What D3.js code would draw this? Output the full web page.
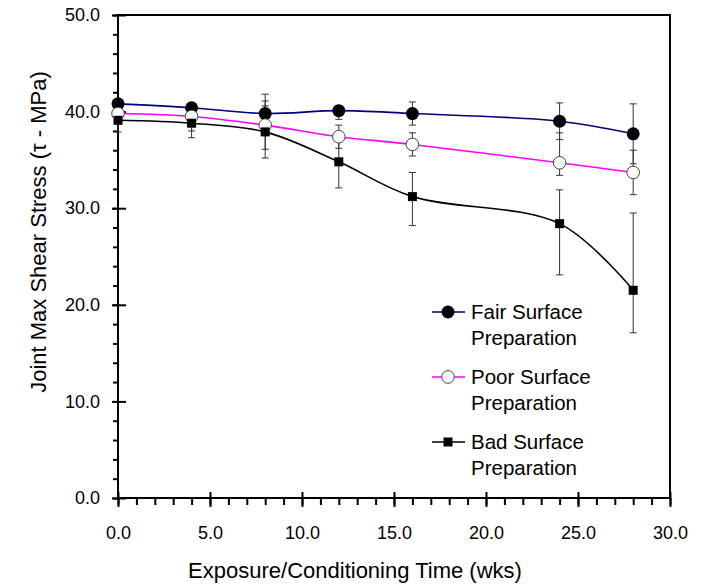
<!DOCTYPE html>
<html>
<head>
<meta charset="utf-8">
<script src="https://cdn.jsdelivr.net/npm/d3@7"></script>
<style>
  body { margin: 0; background: #fff; }
  text { font-family: Arial, "Liberation Sans", sans-serif; fill: #000; }
</style>
</head>
<body>
<div id="chart"></div>
<script>
// weeks of exposure
const weeks = [0, 4, 8, 12, 16, 24, 28];

// joint max shear stress, MPa (means and error-bar ends)
const fairMean = [40.8, 40.4, 39.8, 40.1, 39.8, 39.0, 37.7];
const fairHigh = [41.2, 40.9, 41.8, 40.6, 41.0, 40.9, 40.8];
const fairLow  = [40.4, 39.9, 37.8, 39.2, 38.6, 37.1, 34.6];

const poorMean = [39.8, 39.5, 38.6, 37.4, 36.6, 34.7, 33.7];
const poorHigh = [40.2, 40.0, 41.1, 38.6, 37.8, 37.8, 36.0];
const poorLow  = [39.4, 38.0, 36.1, 36.2, 35.4, 33.4, 31.4];

const badMean = [39.1, 38.8, 37.9, 34.8, 31.2, 28.4, 21.5];
const badHigh = [39.5, 39.6, 40.6, 37.6, 33.7, 31.9, 29.5];
const badLow  = [37.9, 37.3, 35.2, 32.1, 28.2, 23.1, 17.1];

const seriesNames = [["Fair Surface", "Preparation"], ["Poor Surface", "Preparation"], ["Bad Surface", "Preparation"]];

const xTicks = [0, 5, 10, 15, 20, 25, 30];
const yTicks = [0, 10, 20, 30, 40, 50];

const series = [
  {name: seriesNames[0], mean: fairMean, hi: fairHigh, lo: fairLow, color: "#000080", marker: "fillCircle"},
  {name: seriesNames[1], mean: poorMean, hi: poorHigh, lo: poorLow, color: "#ff00ff", marker: "openCircle"},
  {name: seriesNames[2], mean: badMean, hi: badHigh, lo: badLow, color: "#000000", marker: "square"}
];

const chartWidth = 704, chartHeight = 588;
const margin = {top: 15, right: 34, bottom: 90, left: 118};
const width = chartWidth - margin.left - margin.right,
      height = chartHeight - margin.top - margin.bottom;

const svg = d3.select("#chart").append("svg")
    .attr("width", chartWidth)
    .attr("height", chartHeight);
const g = svg.append("g")
    .attr("transform", "translate(" + margin.left + "," + margin.top + ")");

const x = d3.scaleLinear().domain([0, 30]).range([0, width]);
const y = d3.scaleLinear().domain([0, 50]).range([height, 0]);

// minor ticks
g.append("g")
    .attr("transform", "translate(0," + height + ")")
    .call(d3.axisBottom(x).tickValues(d3.range(0, 31, 1)).tickSize(7).tickFormat(""))
    .call(a => a.select(".domain").remove())
    .selectAll("line").attr("stroke-width", 2);
g.append("g")
    .call(d3.axisLeft(y).tickValues(d3.range(0, 51, 2)).tickSize(5).tickFormat(""))
    .call(a => a.select(".domain").remove())
    .selectAll("line").attr("stroke-width", 2);

// major ticks + labels
const xAxis = g.append("g")
    .attr("transform", "translate(0," + height + ")")
    .call(d3.axisBottom(x).tickValues(xTicks).tickSize(9).tickPadding(19).tickFormat(d3.format(".1f")));
xAxis.selectAll(".tick line").attr("y1", -6).attr("stroke-width", 2);
xAxis.select(".domain").remove();
xAxis.selectAll("text").attr("font-size", 18).attr("font-family", "Arial, 'Liberation Sans', sans-serif");

const yAxis = g.append("g")
    .call(d3.axisLeft(y).tickValues(yTicks).tickSize(6).tickPadding(12).tickFormat(d3.format(".1f")));
yAxis.selectAll(".tick line").attr("x1", 8).attr("stroke-width", 2);
yAxis.select(".domain").remove();
yAxis.selectAll("text").attr("font-size", 18).attr("font-family", "Arial, 'Liberation Sans', sans-serif");

// frame
g.append("rect")
    .attr("x", 0).attr("y", 0)
    .attr("width", width).attr("height", height)
    .attr("fill", "none").attr("stroke", "#000").attr("stroke-width", 2);

// error bars
const capW = 3.5;
series.forEach(s => {
  const eb = g.append("g").attr("stroke", "#333").attr("stroke-width", 1);
  weeks.forEach((w, i) => {
    eb.append("line").attr("x1", x(w)).attr("x2", x(w)).attr("y1", y(s.hi[i])).attr("y2", y(s.lo[i]));
    eb.append("line").attr("x1", x(w) - capW).attr("x2", x(w) + capW).attr("y1", y(s.hi[i])).attr("y2", y(s.hi[i]));
    eb.append("line").attr("x1", x(w) - capW).attr("x2", x(w) + capW).attr("y1", y(s.lo[i])).attr("y2", y(s.lo[i]));
  });
});

// lines
const line = d3.line()
    .x(d => x(d[0]))
    .y(d => y(d[1]))
    .curve(d3.curveCatmullRom.alpha(0.5));
series.forEach(s => {
  g.append("path")
      .datum(weeks.map((w, i) => [w, s.mean[i]]))
      .attr("fill", "none")
      .attr("stroke", s.color)
      .attr("stroke-width", 1.6)
      .attr("d", line);
});

function drawMarker(sel, type, cx, cy) {
  if (type === "fillCircle") {
    sel.append("circle").attr("cx", cx).attr("cy", cy).attr("r", 6.5).attr("fill", "#000");
  } else if (type === "openCircle") {
    sel.append("circle").attr("cx", cx).attr("cy", cy).attr("r", 6.3)
      .attr("fill", "#fff").attr("stroke", "#444").attr("stroke-width", 1);
  } else {
    sel.append("rect").attr("x", cx - 4.5).attr("y", cy - 4.5).attr("width", 9).attr("height", 9).attr("fill", "#000");
  }
}

// markers
series.forEach(s => {
  const mg = g.append("g");
  weeks.forEach((w, i) => drawMarker(mg, s.marker, x(w), y(s.mean[i])));
});

// legend
const legend = svg.append("g").attr("transform", "translate(432,312)");
series.forEach((s, i) => {
  const lg = legend.append("g").attr("transform", "translate(0," + (i * 65) + ")");
  lg.append("line").attr("x1", 0).attr("x2", 33).attr("y1", 0).attr("y2", 0)
    .attr("stroke", s.color).attr("stroke-width", 1.6);
  drawMarker(lg, s.marker, 16, 0);
  lg.append("text").attr("x", 39).attr("y", 7).attr("font-size", 20.5).text(s.name[0]);
  lg.append("text").attr("x", 39).attr("y", 33).attr("font-size", 20.5).text(s.name[1]);
});

// axis titles
svg.append("text")
    .attr("x", 355).attr("y", 578)
    .attr("text-anchor", "middle")
    .attr("font-size", 22)
    .text("Exposure/Conditioning Time (wks)");

svg.append("text")
    .attr("transform", "translate(46,232) rotate(-90)")
    .attr("text-anchor", "middle")
    .attr("font-size", 22)
    .text("Joint Max Shear Stress (τ - MPa)");
</script>
</body>
</html>
